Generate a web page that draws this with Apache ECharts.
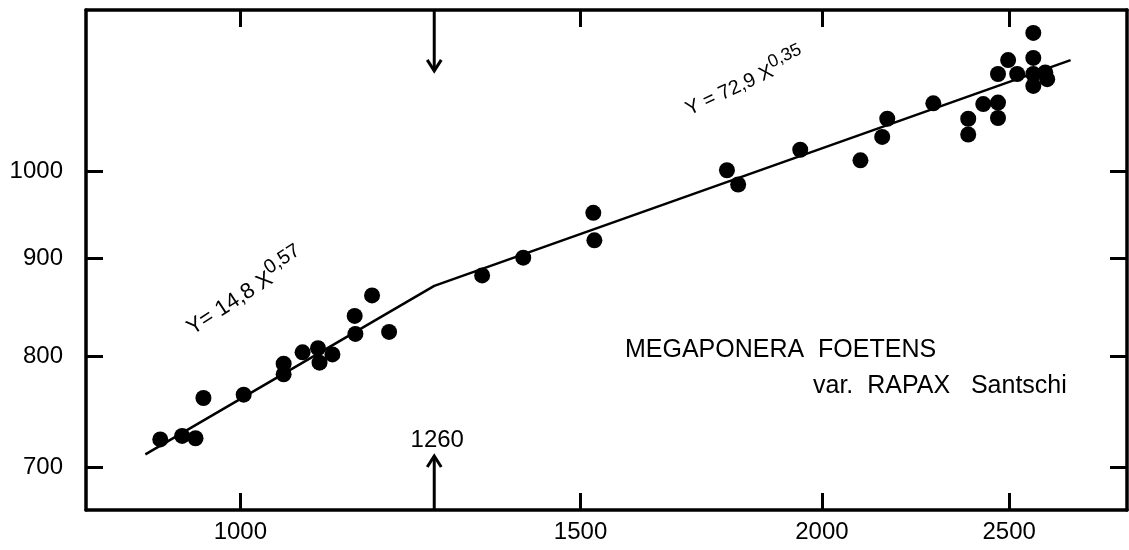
<!DOCTYPE html>
<html>
<head>
<meta charset="utf-8">
<script src="https://cdn.jsdelivr.net/npm/echarts@6/dist/echarts.min.js"></script>
<style>
  html, body { margin: 0; padding: 0; background: #fff; }
  #chart { width: 1129px; height: 550px; }
</style>
</head>
<body>
<div id="chart"></div>
<script>
// log-log axes
var xTicks = [1000, 1500, 2000, 2500];
var yTicks = [700, 800, 900, 1000];
var xMin = 832, xMax = 2877;
var yMin = 665, yMax = 1214;

// colony size X vs Y (dots)
var antX = [909, 933, 948, 957, 1004, 1053, 1053, 1077, 1097, 1099, 1116, 1146, 1147, 1170, 1194,
  1334, 1401, 1523, 1525, 1786, 1810, 1949, 2094, 2149, 2162, 2284, 2381, 2381, 2424, 2467,
  2467, 2467, 2497, 2524, 2573, 2573, 2573, 2573, 2610, 2616];
var antY = [724, 727, 725, 761, 764, 783, 793, 804, 808, 794, 802, 840, 822, 861, 824,
  882, 901, 951, 920, 1001, 984, 1026, 1013, 1042, 1065, 1085, 1065, 1045, 1084, 1086,
  1066, 1124, 1143, 1124, 1181, 1146, 1124, 1108, 1126, 1117];

// broken regression line
var fitX = [893, 1260, 2690];
var fitY = [711, 871, 1143];
var breakX = 1260;

var font = "'Liberation Sans', Arial, sans-serif";

var chartDom = document.getElementById("chart");
var myChart = echarts.init(chartDom);

function logAxis(pos, min, max, ticks, showLabel, margin) {
  return {
    type: "log",
    logBase: 10,
    position: pos,
    min: min,
    max: max,
    axisLine: { show: true, onZero: false, lineStyle: { color: "#000", width: 3.5 } },
    axisTick: { show: true, inside: true, length: 17, customValues: ticks, lineStyle: { color: "#000", width: 3 } },
    minorTick: { show: false },
    splitLine: { show: false },
    axisLabel: {
      show: showLabel,
      customValues: ticks,
      margin: margin,
      color: "#000",
      fontSize: 24,
      fontFamily: font,
      formatter: function (v) { return String(Math.round(v)); }
    }
  };
}

var points = antX.map(function (x, i) { return [x, antY[i]]; });
var line = fitX.map(function (x, i) { return [x, fitY[i]]; });

var option = {
  animation: false,
  backgroundColor: "#fff",
  grid: { left: 86, right: 2, top: 10, bottom: 40, show: false },
  xAxis: [
    logAxis("bottom", xMin, xMax, xTicks, true, 10),
    logAxis("top", xMin, xMax, xTicks, false, 8)
  ],
  yAxis: [
    logAxis("left", yMin, yMax, yTicks, true, 23),
    logAxis("right", yMin, yMax, yTicks, false, 8)
  ],
  series: [
    {
      type: "line",
      data: line,
      symbol: "none",
      lineStyle: { color: "#000", width: 2.5 },
      z: 2
    },
    {
      type: "scatter",
      data: points,
      symbol: "circle",
      symbolSize: 16,
      itemStyle: { color: "#000", opacity: 1 },
      z: 3
    }
  ]
};
myChart.setOption(option);

// annotations: arrows at the break, equations, species name
var bx = myChart.convertToPixel({ xAxisIndex: 0 }, breakX);
var yBot = myChart.convertToPixel({ yAxisIndex: 0 }, yMin);
var yTop = myChart.convertToPixel({ yAxisIndex: 0 }, yMax * 0.999);
if (!isFinite(yTop)) yTop = 10;

function arrow(x, yFrom, yTo) {
  var d = yTo < yFrom ? 1 : -1;
  return [
    { type: "line", shape: { x1: x, y1: yFrom, x2: x, y2: yTo }, style: { stroke: "#000", lineWidth: 3 } },
    { type: "polyline", shape: { points: [[x - 7, yTo + d * 11], [x, yTo], [x + 7, yTo + d * 11]] },
      style: { stroke: "#000", lineWidth: 3, fill: null } }
  ];
}

var eqRich = function (size) {
  return {
    m: { fontSize: size, fontFamily: font, color: "#000", verticalAlign: "bottom", lineHeight: size * 1.35 },
    s: { fontSize: size * 0.9, fontFamily: font, color: "#000", verticalAlign: "top", lineHeight: size * 1.35 }
  };
};

var graphics = []
  .concat(arrow(bx, yBot, yBot - 54))
  .concat(arrow(bx, yTop, yTop + 60))
  .concat([
    { type: "text", x: bx + 3, y: yBot - 70,
      style: { text: "1260", font: "24px " + font, fill: "#000", align: "center", verticalAlign: "middle" } },
    { type: "text", x: 244, y: 290, rotation: 33 * Math.PI / 180,
      style: { text: "{m|Y= 14,8 X}{s|0,57}", rich: eqRich(22), align: "center", verticalAlign: "middle" } },
    { type: "text", x: 744, y: 80, rotation: 25 * Math.PI / 180,
      style: { text: "{m|Y = 72,9 X}{s|0,35}", rich: eqRich(20), align: "center", verticalAlign: "middle" } },
    { type: "text", x: 625, y: 350,
      style: { text: "MEGAPONERA  FOETENS", font: "25px " + font, fill: "#000", align: "left", verticalAlign: "middle" } },
    { type: "text", x: 813, y: 386,
      style: { text: "var.  RAPAX   Santschi", font: "25px " + font, fill: "#000", align: "left", verticalAlign: "middle" } }
  ]);

myChart.setOption({ graphic: graphics });
</script>
</body>
</html>
